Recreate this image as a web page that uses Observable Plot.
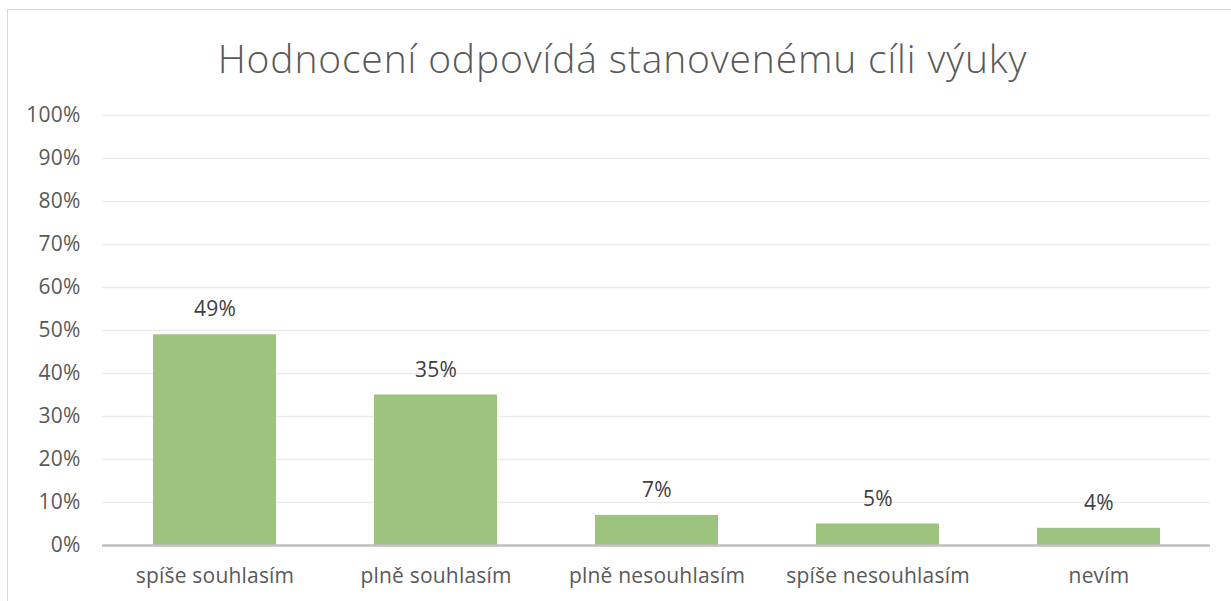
<!DOCTYPE html>
<html>
<head>
<meta charset="utf-8">
<script src="https://cdn.jsdelivr.net/npm/d3@7"></script>
<script src="https://cdn.jsdelivr.net/npm/@observablehq/plot@0.6"></script>
<style>
  html, body { margin: 0; padding: 0; background: #fff; }
  #wrap { position: relative; width: 1231px; height: 601px; overflow: hidden; font-family: "Open Sans", sans-serif; }
  #frame { position: absolute; left: 7px; top: 9px; width: 1300px; height: 700px; border-left: 1.5px solid #d9d9d9; border-top: 1.5px solid #d9d9d9; box-sizing: border-box; }
  #title { position: absolute; left: 0; top: 0; width: 1231px; height: 100px; text-align: center; font-size: 39px; font-weight: 300; color: #595959; line-height: 1; padding-top: 38px; padding-left: 14px; box-sizing: border-box; letter-spacing: 0.85px; }
  #chart { position: absolute; left: 0; top: 100px; }
</style>
</head>
<body>
<div id="wrap">
  <div id="frame"></div>
  <div id="title">Hodnocení odpovídá stanovenému cíli výuky</div>
  <div id="chart"></div>
</div>
<script>
const categories = ["spíše souhlasím", "plně souhlasím", "plně nesouhlasím", "spíše nesouhlasím", "nevím"];
const values = [0.49, 0.35, 0.07, 0.05, 0.04];
const yTicks = [0, 0.1, 0.2, 0.3, 0.4, 0.5, 0.6, 0.7, 0.8, 0.9, 1.0];

const data = categories.map((c, i) => ({category: c, value: values[i]}));
const pct = d3.format(".0%");

const chart = Plot.plot({
  width: 1231,
  height: 501,
  marginTop: 15,
  marginBottom: 56,
  marginLeft: 102,
  marginRight: 21,
  style: {fontFamily: "Open Sans, sans-serif", fontSize: "21px", color: "#595959", background: "transparent", letterSpacing: "0.2px"},
  x: {domain: categories, paddingInner: 0.445, paddingOuter: 0.2225, label: null, tickSize: 0, tickPadding: 23},
  y: {domain: [0, 1], ticks: yTicks, tickFormat: pct, label: null, tickSize: 0, tickPadding: 22},
  marks: [
    Plot.gridY(yTicks, {stroke: "#ececec", strokeOpacity: 1, strokeWidth: 1.5}),
    Plot.barY(data, {x: "category", y: "value", fill: "#9cc47f"}),
    Plot.ruleY([0], {stroke: "#bfbfbf", strokeWidth: 2.5}),
    Plot.text(data, {x: "category", y: "value", text: d => pct(d.value), dy: -18.5, lineAnchor: "bottom", fill: "#404040", fontSize: 21})
  ]
});
document.getElementById("chart").appendChild(chart);
</script>
</body>
</html>
